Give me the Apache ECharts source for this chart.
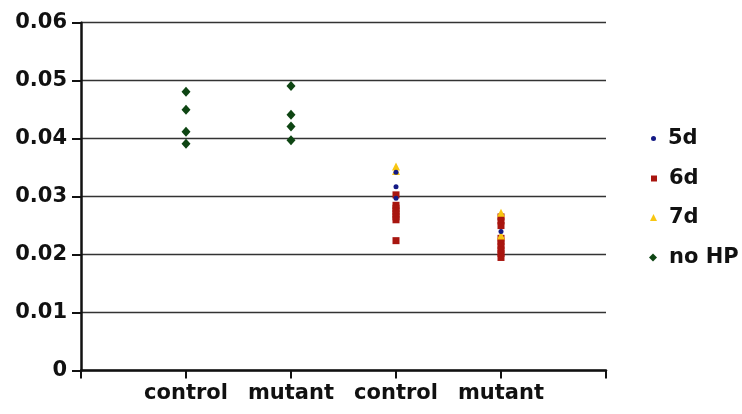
<!DOCTYPE html>
<html><head><meta charset="utf-8">
<script src="https://cdn.jsdelivr.net/npm/echarts@6/dist/echarts.min.js"></script>
<style>html,body{margin:0;padding:0;background:#fff}#c{width:742px;height:414px}</style>
</head><body><div id="c"></div>
<script>
const categories = ['control', 'mutant', 'control', 'mutant'];
const yTicks = [0, 0.01, 0.02, 0.03, 0.04, 0.05, 0.06];
// values per category position (1..4)
const d5_control2 = [0.0342, 0.0317, 0.0297];
const d5_mutant2 = [0.0240];
const d6_control2 = [0.0303, 0.0285, 0.0280, 0.0275, 0.0270, 0.0265, 0.0260, 0.0224];
const d6_mutant2 = [0.0265, 0.0258, 0.0250, 0.0228, 0.0222, 0.0215, 0.0208, 0.0202, 0.0195];
const d7_control2 = [0.0352, 0.0344];
const d7_mutant2 = [0.0272, 0.0233];
const noHP_control = [0.0481, 0.0450, 0.0412, 0.0391];
const noHP_mutant = [0.0491, 0.0441, 0.0421, 0.0397];

function pts(x, arr) { return arr.map(v => [x, v]); }
const FONT = '"DejaVu Sans", sans-serif';
const chart = echarts.init(document.getElementById('c'), null, {renderer: 'canvas'});
const legendBase = {
  orient: 'vertical', selectedMode: false,
  textStyle: {fontFamily: FONT, fontWeight: 'bold', fontSize: 21, color: '#111', padding: [0, 0, 0, 7]}
};
chart.setOption({
  animation: false,
  grid: {left: 81, right: 136, top: 22.7, bottom: 43.5},
  xAxis: {
    type: 'value', min: 0, max: 5, interval: 1,
    axisLine: {show: true, lineStyle: {color: '#111', width: 2.5}},
    axisTick: {show: true, inside: false, length: 8, lineStyle: {color: '#111', width: 2}},
    splitLine: {show: false},
    axisLabel: {
      margin: 13, fontFamily: FONT, fontWeight: 'bold', fontSize: 21, color: '#111',
      formatter: v => (v >= 1 && v <= 4) ? categories[v - 1] : ''
    }
  },
  yAxis: {
    type: 'value', min: 0, max: 0.06, interval: 0.01,
    axisLine: {show: true, lineStyle: {color: '#111', width: 2.5}},
    axisTick: {show: true, inside: false, length: 9, lineStyle: {color: '#111', width: 2}},
    splitLine: {show: true, lineStyle: {color: '#333', width: 1.4}},
    axisLabel: {
      margin: 14, fontFamily: FONT, fontWeight: 'bold', fontSize: 21, color: '#111',
      formatter: v => { const t = yTicks.find(x => Math.abs(x - v) < 1e-9); return t === 0 ? '0' : t.toFixed(2); }
    }
  },
  legend: [
    Object.assign({}, legendBase, {left: 646, top: 123, itemWidth: 5, itemHeight: 5, data: [{name: '5d', icon: 'circle'}]}),
    Object.assign({}, legendBase, {left: 646, top: 163, itemWidth: 6, itemHeight: 6, data: [{name: '6d', icon: 'rect'}]}),
    Object.assign({}, legendBase, {left: 645, top: 202, itemWidth: 7, itemHeight: 7, data: [{name: '7d', icon: 'triangle'}]}),
    Object.assign({}, legendBase, {left: 644, top: 242, itemWidth: 8, itemHeight: 8, data: [{name: 'no HP', icon: 'diamond'}]})
  ],
  series: [
    {name: 'no HP', type: 'scatter', symbol: 'diamond', symbolSize: [9, 10],
     itemStyle: {color: '#0e4513', opacity: 1}, data: pts(1, noHP_control).concat(pts(2, noHP_mutant))},
    {name: '6d', type: 'scatter', symbol: 'rect', symbolSize: 7,
     itemStyle: {color: '#a8150f', opacity: 1}, data: pts(3, d6_control2).concat(pts(4, d6_mutant2))},
    {name: '7d', type: 'scatter', symbol: 'triangle', symbolSize: 8,
     itemStyle: {color: '#f8c612', opacity: 1}, data: pts(3, d7_control2).concat(pts(4, d7_mutant2))},
    {name: '5d', type: 'scatter', symbol: 'circle', symbolSize: 5,
     itemStyle: {color: '#141a85', opacity: 1}, data: pts(3, d5_control2).concat(pts(4, d5_mutant2))}
  ]
});
</script></body></html>
